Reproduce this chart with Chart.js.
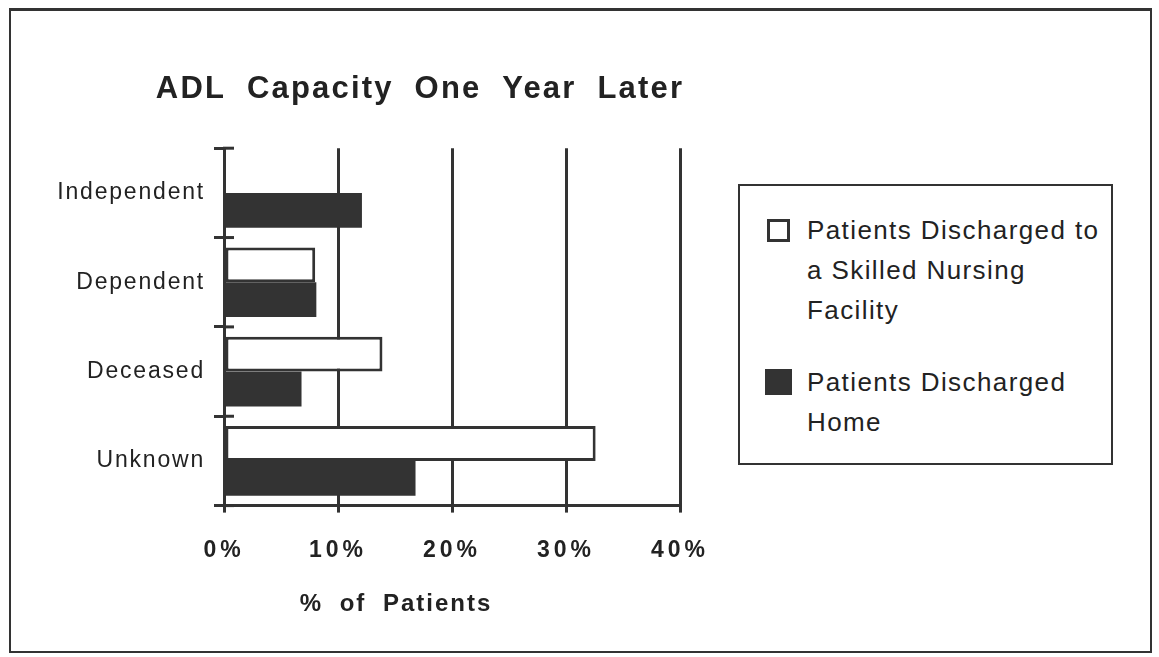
<!DOCTYPE html>
<html>
<head>
<meta charset="utf-8">
<script src="https://cdn.jsdelivr.net/npm/chart.js@4.4.1/dist/chart.umd.min.js"></script>
<style>
  html, body { margin: 0; padding: 0; background: #fff; }
  #wrap { position: relative; width: 1159px; height: 657px; overflow: hidden; background: #fff; }
  #frame { position: absolute; left: 9px; top: 8px; width: 1139px; height: 640px;
           border: 2px solid #333; border-top-width: 3px; pointer-events: none; }
  #c { position: absolute; left: 0; top: 0; }
  #legend { position: absolute; left: 738px; top: 184px; width: 371px; height: 277px;
            border: 2px solid #333; background: #fff; box-sizing: content-box;
            font-family: 'Liberation Sans', Arial, sans-serif; font-size: 26px; color: #222;
            letter-spacing: 1.4px; }
  .item { position: absolute; left: 24px; display: flex; align-items: flex-start; }
  .sw { width: 28px; display: flex; justify-content: center; flex: none; }
  .sw div { box-sizing: border-box; }
  .txt { margin-left: 15px; width: 300px; line-height: 40px; }
</style>
</head>
<body>
<div id="wrap">
  <canvas id="c" width="1159" height="657"></canvas>
  <div id="frame"></div>
  <div id="legend"></div>
</div>
<script>
// ---- data ----
const categories = ['Independent', 'Dependent', 'Deceased', 'Unknown'];
const seriesNames = ['Patients Discharged to a Skilled Nursing Facility', 'Patients Discharged Home'];
const snfValues = [0, 8.0, 13.9, 32.6];
const homeValues = [12.1, 8.1, 6.8, 16.8];
const xTicks = [0, 10, 20, 30, 40];
const chartTitle = 'ADL Capacity One Year Later';
const xAxisTitle = '% of Patients';

const INK = '#333333';
const FONT = "'Liberation Sans', Arial, Helvetica, sans-serif";

// letter spacing for canvas text + inward y ticks
const stylePlugin = {
  id: 'styleText',
  afterLayout(chart) {
    const wrap = (obj, fn, ls, ws, dx, dy) => {
      if (!obj || obj['__w_' + fn]) return;
      const orig = obj[fn];
      obj[fn] = function (...args) {
        const ctx = chart.ctx;
        ctx.save();
        try { ctx.letterSpacing = ls; ctx.wordSpacing = ws || '0px'; } catch (e) {}
        ctx.translate(dx || 0, dy || 0);
        const r = orig.apply(this, args);
        ctx.restore();
        return r;
      };
      obj['__w_' + fn] = true;
    };
    wrap(chart.scales.x, 'drawLabels', '4px');
    wrap(chart.scales.x, 'drawTitle', '2px', '8px', -56, 0);
    wrap(chart.scales.y, 'drawLabels', '1.8px');
    wrap(chart.titleBlock, 'draw', '2.2px', '10px', 60, 0);
  },
  afterDraw(chart) {
    const y = chart.scales.y;
    const n = categories.length;
    const ctx = chart.ctx;
    ctx.save();
    ctx.strokeStyle = INK;
    ctx.lineWidth = 3;
    for (let k = 0; k <= n; k++) {
      const py = y.top + k * (y.bottom - y.top) / n;
      ctx.beginPath();
      ctx.moveTo(y.right - 1, py);
      ctx.lineTo(y.right + 10, py);
      ctx.stroke();
    }
    ctx.restore();
  }
};

const chart = new Chart(document.getElementById('c'), {
  type: 'bar',
  data: {
    labels: categories,
    datasets: [
      { label: seriesNames[0], data: snfValues, backgroundColor: '#ffffff', borderColor: INK,
        borderWidth: 3, borderSkipped: false },
      { label: seriesNames[1], data: homeValues, backgroundColor: INK, borderColor: INK,
        borderWidth: 0 }
    ]
  },
  options: {
    indexAxis: 'y',
    responsive: false,
    animation: false,
    devicePixelRatio: 1,
    categoryPercentage: 0.78,
    barPercentage: 1.0,
    layout: { padding: { left: 40, right: 479, top: 63, bottom: 38 } },
    plugins: {
      legend: { display: false },
      tooltip: { enabled: false },
      title: {
        display: true, text: chartTitle, color: '#222',
        font: { family: FONT, size: 31, weight: 'bold', lineHeight: 1.2 },
        padding: { top: 8, bottom: 40 }
      }
    },
    scales: {
      x: {
        type: 'linear', position: 'bottom', min: 0, max: 40,
        afterBuildTicks(scale) { scale.ticks = xTicks.map(v => ({ value: v })); },
        ticks: { callback: v => v + '%', color: '#222', padding: 24,
                 font: { family: FONT, size: 23, weight: 'bold', lineHeight: 1.2 } },
        grid: { color: INK, lineWidth: 3, drawOnChartArea: true, drawTicks: true, tickLength: 7 },
        border: { display: true, color: INK, width: 3 },
        title: { display: true, text: xAxisTitle, color: '#222',
                 font: { family: FONT, size: 24, weight: 'bold', lineHeight: 1.2 },
                 padding: { top: 2, bottom: 0 } }
      },
      y: {
        type: 'category',
        afterFit(scale) { scale.width = 184; },
        ticks: { color: '#222', padding: 9,
                 font: { family: FONT, size: 23, lineHeight: 1.2 } },
        grid: { offset: true, drawOnChartArea: false, drawTicks: true, tickLength: 10,
                color: INK, lineWidth: 3 },
        border: { display: true, color: INK, width: 3 }
      }
    }
  },
  plugins: [stylePlugin]
});

// HTML legend built from the chart's datasets
(function buildLegend() {
  const lg = document.getElementById('legend');
  const tops = [24, 176];
  chart.data.datasets.forEach((ds, i) => {
    const item = document.createElement('div');
    item.className = 'item';
    item.style.top = tops[i] + 'px';
    const sw = document.createElement('div');
    sw.className = 'sw';
    const box = document.createElement('div');
    const filled = ds.backgroundColor !== '#ffffff';
    box.style.width = (filled ? 27 : 23) + 'px';
    box.style.height = (filled ? 26 : 23) + 'px';
    box.style.marginTop = (filled ? 7 : 9) + 'px';
    box.style.background = ds.backgroundColor;
    box.style.border = '3px solid ' + ds.borderColor;
    sw.appendChild(box);
    const tx = document.createElement('div');
    tx.className = 'txt';
    tx.textContent = ds.label;
    item.appendChild(sw);
    item.appendChild(tx);
    lg.appendChild(item);
  });
})();
</script>
</body>
</html>
